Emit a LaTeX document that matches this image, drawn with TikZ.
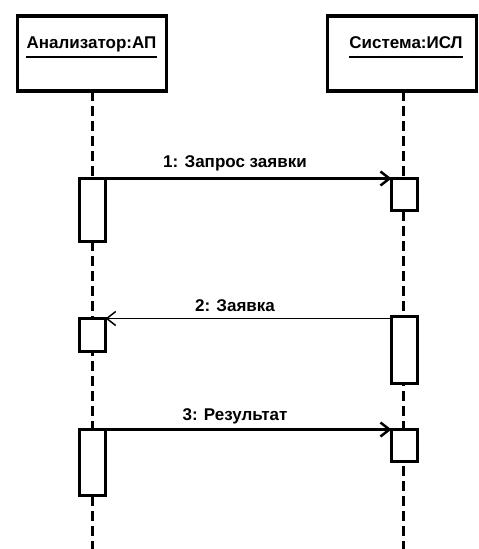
\documentclass[tikz,border=0pt]{standalone}
\usepackage{fontspec}
\setmainfont{Liberation Sans}
\usetikzlibrary{arrows.meta}
\begin{document}
\begin{tikzpicture}[x=1pt,y=-1pt,
  hdr/.style={draw,line width=3.5pt,minimum width=149pt,minimum height=75pt,inner sep=0pt,outer sep=0pt},
  hdrtext/.style={font=\bfseries\fontsize{17}{20}\selectfont,inner sep=0pt},
  act/.style={draw,line width=3pt,fill=white,minimum width=26pt,inner sep=0pt,outer sep=0pt,anchor=north},
  life/.style={line width=3pt,dash pattern=on 10pt off 5pt},
  msg/.style={line width=2.5pt,-{Straight Barb[length=9pt,width=14pt]}},
  msgthin/.style={line width=1.5pt,-{Straight Barb[length=9pt,width=14pt]}},
  lbl/.style={font=\bfseries\fontsize{17}{20}\selectfont,inner sep=0pt},
  uline/.style={line width=2pt}]
\useasboundingbox (0,0) rectangle (479,549);
% header boxes
\node[hdr] (la) at (92,53.5) {};
\node[hdr] (lb) at (402,53.5) {};
\node[hdrtext,anchor=base] (ta) at (91.5,48) {Анализатор:АП};
\node[hdrtext,anchor=base] (tb) at (406,48) {Система:ИСЛ};
\draw[uline] ([yshift=-9pt]ta.base west) -- ([yshift=-9pt]ta.base east);
\draw[uline] ([yshift=-9pt]tb.base west) -- ([yshift=-9pt]tb.base east);
% lifelines
\coordinate (laend) at (92,549);
\coordinate (lbend) at (403,549);
\draw[life] (la.south -| laend) -- (laend);
\draw[life] (lb.south -| lbend) -- (lbend);
% activations
\node[act,minimum height=63pt] (a1) at (92.5,178.5) {};
\node[act,minimum height=33pt] (a2) at (92.5,318.5) {};
\node[act,minimum height=66pt] (a3) at (92.5,429.5) {};
\node[act,minimum height=32pt] (b1) at (404.5,178.5) {};
\node[act,minimum height=67pt] (b2) at (404.5,316.5) {};
\node[act,minimum height=32pt] (b3) at (404.5,429.5) {};
% messages
\draw[msg] (a1.north east) -- (b1.north west);
\draw[msgthin] (b2.west |- a2.north) -- (a2.north east);
\draw[msg] (a3.north east) -- (b3.north west);
% labels
\node[lbl] (m1) at (235,163) {1: Запрос заявки};
\node[lbl] (m2) at (235,306) {2: Заявка};
\node[lbl] (m3) at (235,416) {3: Результат};
\end{tikzpicture}
\end{document}
